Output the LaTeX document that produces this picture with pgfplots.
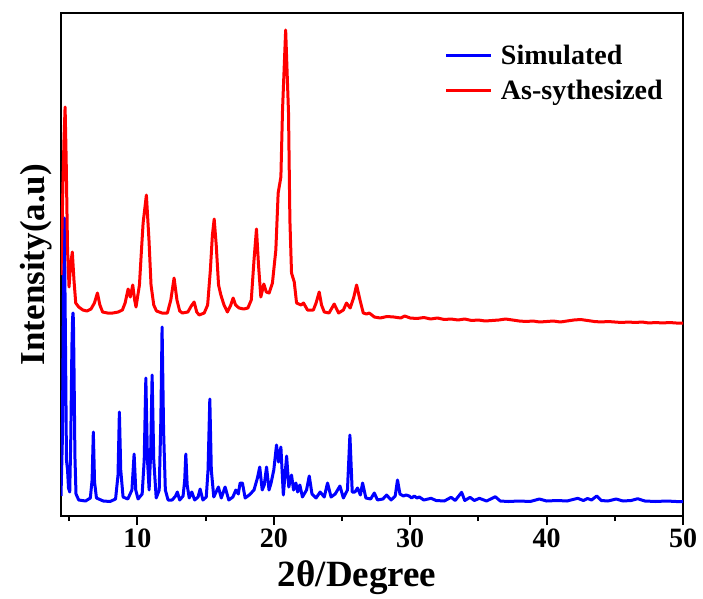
\documentclass[border=0pt]{standalone}
\usepackage{fontspec}
\setmainfont{Liberation Serif}
\usepackage{pgfplots}
\usepackage{pgfplotstable}
\pgfplotsset{compat=1.18}

\definecolor{simblue}{RGB}{0,0,255}
\definecolor{expred}{RGB}{255,0,0}

% simulated pattern (2theta, intensity in arbitrary units)
\pgfplotstableread{
x y
4.40 20
4.50 76
4.58 216
4.64 298
4.72 186
4.80 56
4.88 46
4.95 28
5.04 24
5.12 80
5.20 170
5.25 198
5.28 203
5.31 196
5.36 140
5.42 60
5.50 22
5.70 16
6.20 15
6.55 18
6.68 36
6.77 84
6.86 34
7.00 18
7.50 15
8.00 14.5
8.40 17
8.58 41
8.68 104
8.78 46
8.95 19
9.30 17
9.60 26
9.76 62
9.88 26
10.05 17
10.35 22
10.50 56
10.62 138
10.74 56
10.86 26
10.97 61
11.08 141
11.20 56
11.38 18
11.60 26
11.72 96
11.81 189
11.92 86
12.05 26
12.25 16
12.55 16
12.80 20
12.93 24
13.10 16
13.35 20
13.47 36
13.55 62
13.65 31
13.80 18
13.99 24
14.20 16
14.45 19
14.60 27
14.80 16
15.05 19
15.18 46
15.31 117
15.42 46
15.60 19
15.94 29
16.15 18
16.43 29
16.70 16
17.00 19
17.22 26
17.40 22
17.53 33
17.70 33
17.90 18
18.20 21
18.55 26
18.80 38
18.97 49
19.15 26
19.30 31
19.47 49
19.65 26
19.80 33
20.00 46
20.20 71
20.35 54
20.52 69
20.70 21
20.94 60
21.10 29
21.30 41
21.45 26
21.62 33
21.75 24
21.91 31
22.10 19
22.40 26
22.60 40
22.80 22
23.10 18
23.40 24
23.70 19
23.94 33
24.20 19
24.50 22
24.85 30
25.10 18
25.40 26
25.58 81
25.75 24
25.95 24
26.14 28
26.35 21
26.51 33
26.75 18
27.10 17
27.37 23
27.60 16
28.00 17
28.27 21
28.60 16
28.90 20
29.07 36
29.25 22
29.50 20
29.70 21
29.93 20
30.10 18
30.30 20
30.50 18
30.67 19
31.00 16
31.53 17.7
31.90 15.5
32.50 15
33.00 18.7
33.30 15.5
33.77 23.7
34.00 15.5
34.39 18.7
34.70 15.5
35.07 17.7
35.60 15
36.24 19.3
36.60 15
37.20 14.5
38.00 15
38.80 14.5
39.47 17
40.00 15
40.80 15.5
41.50 15
42.28 17.7
42.70 15.5
43.00 17.5
43.30 16
43.67 20
44.00 15.5
44.50 15
45.10 17
45.60 15
46.20 15.5
46.68 17.3
47.20 15
48.00 14.5
48.80 15
49.50 14.5
50.00 14.5
}\simulated

% as-synthesized pattern, offset upwards
\pgfplotstableread{
x y
4.40 241
4.55 336
4.62 376
4.70 409
4.78 356
4.88 266
4.99 229
5.10 251
5.23 264
5.35 236
5.48 213
5.70 209
6.00 206
6.30 205
6.60 207
6.85 213
7.07 223
7.25 211
7.45 204
7.80 203
8.20 203
8.60 204
8.90 206
9.10 213
9.32 227
9.48 219
9.66 231
9.80 216
9.90 209
10.15 231
10.30 266
10.42 293
10.66 321
10.85 276
11.00 231
11.20 211
11.40 205
11.80 203
12.20 203
12.45 216
12.69 238
12.90 216
13.10 205
13.30 203
13.70 204
13.95 210
14.16 214
14.35 204
14.53 201
14.90 203
15.15 211
15.35 246
15.50 281
15.63 297
15.78 271
15.95 231
16.12 221
16.35 211
16.60 204
16.85 211
17.02 218
17.20 211
17.45 208
17.80 207
18.10 208
18.35 216
18.55 256
18.73 287
18.88 251
19.05 219
19.27 232
19.45 224
19.66 223
19.90 233
20.15 266
20.32 323
20.52 339
20.64 406
20.87 486
21.08 403
21.18 296
21.30 243
21.50 234
21.67 213
22.00 211
22.18 213
22.47 206
22.90 206
23.10 213
23.33 224
23.50 211
23.70 204
24.05 203
24.43 212
24.75 203
25.10 206
25.33 213
25.60 208
25.85 218
26.07 231
26.32 216
26.56 203
26.80 202
27.00 203
27.37 199
27.80 198
28.30 199.5
28.80 199
29.30 198
29.60 200
30.00 198
30.50 197.5
31.00 198.5
31.50 197
32.00 198
32.50 196.5
33.00 197
33.50 196
34.00 197
34.50 195.5
35.00 196
35.50 195
36.00 195.5
36.50 196
37.00 197
37.50 196
38.00 195
38.50 194.5
39.00 195
39.50 194
40.00 194.5
40.50 195
41.00 194
41.50 195
42.00 196
42.50 196.5
43.00 195.5
43.50 194.5
44.00 194
44.50 194.5
45.00 194
45.50 193.5
46.00 194
46.50 193.5
47.00 194
47.50 193
48.00 193.5
48.50 193
49.00 193.5
49.50 193
50.00 193
}\synthesized

\begin{document}
\begin{tikzpicture}
\begin{axis}[
    scale only axis,
    width=622pt, height=503pt,
    xmin=4.4, xmax=50,
    ymin=0, ymax=503,
    xtick={10,20,30,40,50},
    minor xtick={5,15,25,35,45},
    ytick=\empty,
    xtick pos=bottom,
    tick align=outside,
    major tick length=9pt,
    minor tick length=5pt,
    every tick/.style={black, line width=2pt},
    axis line style={line width=2.4pt},
    /pgf/number format/assume math mode=true,
    ticklabel style={font=\bfseries\fontsize{28}{28}\selectfont},
    xlabel={2θ/Degree},
    ylabel={Intensity(a.u)},
    xlabel style={font=\bfseries\fontsize{37}{37}\selectfont,
        at={(axis description cs:0.476,-0.123)}, anchor=center},
    ylabel style={font=\bfseries\fontsize{35}{35}\selectfont,
        at={(axis description cs:-0.040,0.500)}, anchor=center, rotate=0},
    legend style={at={(axis description cs:0.617,0.94)}, anchor=north west,
        draw=none, fill=none, font=\bfseries\fontsize{28}{28}\selectfont,
        row sep=10pt, inner sep=0pt},
    legend cell align=left,
    legend image code/.code={\draw[#1] (0pt,0pt) -- (45pt,0pt); \path (51pt,0pt);},
    clip=true,
]
\addplot[simblue, line width=3pt, line join=round] table[x=x, y=y] {\simulated};
\addlegendentry{Simulated}
\addplot[expred, line width=3pt, line join=round] table[x=x, y=y] {\synthesized};
\addlegendentry{As-sythesized}
\end{axis}
\path[use as bounding box] ([xshift=-61pt,yshift=-81pt]current axis.south west)
    rectangle ([xshift=20pt,yshift=13pt]current axis.north east);
\end{tikzpicture}
\end{document}
